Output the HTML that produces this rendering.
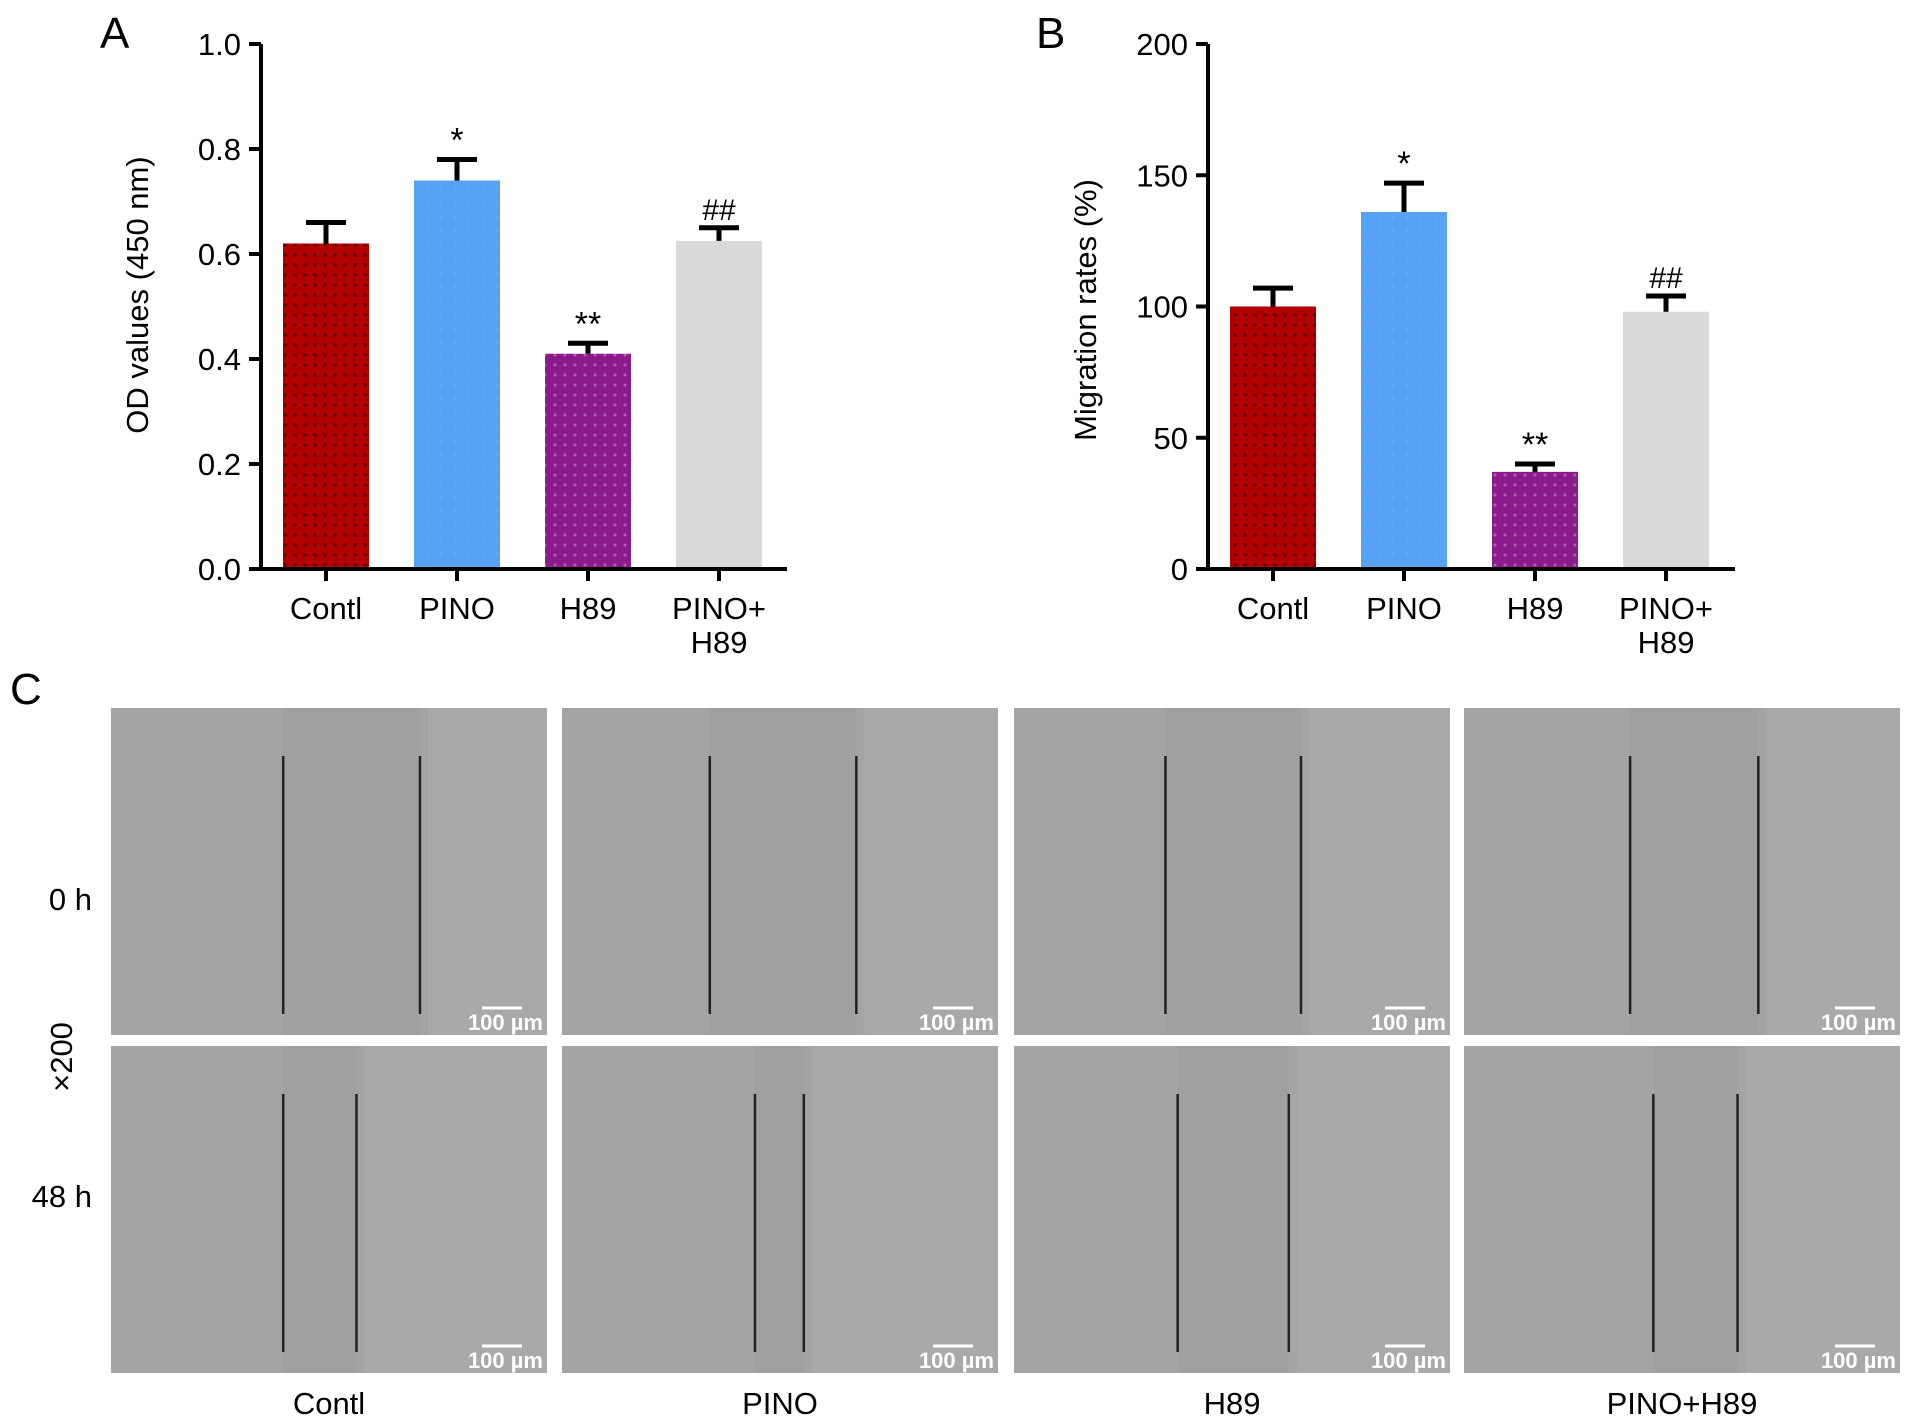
<!DOCTYPE html>
<html><head><meta charset="utf-8">
<style>
html,body{margin:0;padding:0;background:#fff;}
svg{display:block;font-family:"Liberation Sans",Arial,sans-serif;}
</style></head>
<body>
<svg id="fig" width="1913" height="1428" viewBox="0 0 1913 1428" xmlns="http://www.w3.org/2000/svg">
<defs>
<pattern id="dotRed" width="10" height="10" patternUnits="userSpaceOnUse"><rect width="10" height="10" fill="#b00000"/><circle cx="5" cy="5" r="1.8" fill="#6a0000"/></pattern>
<pattern id="dotPur" width="10" height="10" patternUnits="userSpaceOnUse"><rect width="10" height="10" fill="#8b1a8b"/><circle cx="5" cy="5" r="1.5" fill="#b060b0"/></pattern>
<pattern id="dotBlue" width="14" height="14" patternUnits="userSpaceOnUse"><rect width="14" height="14" fill="#58a2f4"/><circle cx="7" cy="7" r="1" fill="#6aaef6"/></pattern>
</defs>
<g id="panelA"></g>
<g id="panelB"></g>
<g id="panelC"></g>
</svg>
<script>
const NS='http://www.w3.org/2000/svg';
const categories=['Contl','PINO','H89','PINO+\nH89'];
const odValues=[0.62,0.74,0.41,0.625];
const odErrors=[0.04,0.04,0.02,0.025];
const odMarks=['','*','**','##'];
const odTicks=[0,0.2,0.4,0.6,0.8,1.0];
const odTickLabels=['0.0','0.2','0.4','0.6','0.8','1.0'];
const migValues=[100,136,37,98];
const migErrors=[7,11,3,6];
const migMarks=['','*','**','##'];
const migTicks=[0,50,100,150,200];
const migTickLabels=['0','50','100','150','200'];
const fills=['url(#dotRed)','url(#dotBlue)','url(#dotPur)','#d9d9d9'];
const imgLabels=['Contl','PINO','H89','PINO+H89'];
const gap0=[[141,253],[121,241],[124,235],[136,241]];
const gap48=[[141,201],[158,198],[134,225],[155,224]];

function el(tag,attrs,parent,text){const e=document.createElementNS(NS,tag);for(const k in attrs)e.setAttribute(k,attrs[k]);if(text!==undefined)e.textContent=text;parent.appendChild(e);return e;}

function drawChart(g,cfg){
  const x0=cfg.axisX,yTop=44,yBot=569,xEnd=cfg.xEnd;
  const ymax=cfg.ticks[cfg.ticks.length-1];
  const yS=v=>yBot-(v/ymax)*(yBot-yTop);
  const step=131,first=cfg.axisX+65,bw=86;
  const xS=i=>first+i*step;
  const pl=el('text',{x:cfg.letterX,y:48,'font-size':44},g,cfg.letter);
  
  cfg.values.forEach((v,i)=>{
    const r=el('rect',{x:xS(i)-bw/2,y:yS(v),width:bw,height:yBot-yS(v),fill:fills[i]},g);
    
    const eT=yS(v+cfg.errors[i]);
    const eb=el('path',{d:`M${xS(i)} ${yS(v)}V${eT}M${xS(i)-20} ${eT}H${xS(i)+20}`,stroke:'#000','stroke-width':5,fill:'none'},g);
    
    if(cfg.marks[i]){const m=el('text',{x:xS(i),y:eT-8,'font-size':cfg.marks[i]==='##'?30:34,'text-anchor':'middle'},g,cfg.marks[i]);
      }
    const lines=categories[i].split('\n');
    lines.forEach((t,j)=>{const tl=el('text',{x:xS(i),y:619+j*34,'font-size':31,'text-anchor':'middle'},g,t);
      });
    const tk=el('line',{x1:xS(i),x2:xS(i),y1:yBot,y2:yBot+12,stroke:'#000','stroke-width':4},g);
    
  });
  const ax=el('path',{d:`M${x0} ${yTop}V${yBot}H${xEnd}`,stroke:'#000','stroke-width':4,fill:'none'},g);
  
  cfg.ticks.forEach((t,i)=>{
    const tk=el('line',{x1:x0-12,x2:x0,y1:yS(t),y2:yS(t),stroke:'#000','stroke-width':4},g);
    
    const tl=el('text',{x:x0-20,y:yS(t)+11,'font-size':31,'text-anchor':'end'},g,cfg.tickLabels[i]);
    
  });
  const yt=el('text',{x:0,y:0,'font-size':31,'text-anchor':'middle',transform:`translate(${cfg.titleX},${cfg.titleY}) rotate(-90)`},g,cfg.title);
  
}
drawChart(document.getElementById('panelA'),{axisX:261,xEnd:787,values:odValues,errors:odErrors,marks:odMarks,ticks:odTicks,tickLabels:odTickLabels,letter:'A',letterX:100,title:'OD values (450 nm)',titleX:148,titleY:295});
drawChart(document.getElementById('panelB'),{axisX:1208,xEnd:1735,values:migValues,errors:migErrors,marks:migMarks,ticks:migTicks,tickLabels:migTickLabels,letter:'B',letterX:1036,title:'Migration rates (%)',titleX:1096,titleY:310});

const gc=document.getElementById('panelC');
const cl=el('text',{x:10,y:704,'font-size':44},gc,'C');

const colX=[111,562,1014,1464],rowY=[708,1046],W=436,H=327;
[gap0,gap48].forEach((gaps,r)=>{
  colX.forEach((cx,c)=>{
    const im=el('rect',{x:cx,y:rowY[r],width:W,height:H,fill:'#a4a4a4'},gc);
    
    
    const sx=W/357;
    const gx1=cx+gaps[c][0]*sx,gx2=cx+gaps[c][1]*sx;
    el('rect',{x:gx1,y:rowY[r],width:gx2-gx1,height:H,fill:'#a0a0a3'},gc);
    el('rect',{x:gx2+8,y:rowY[r],width:cx+W-gx2-8,height:H,fill:'#a9a9a9'},gc);
    [gx1,gx2].forEach(x=>{const ln=el('line',{x1:x,x2:x,y1:rowY[r]+48,y2:rowY[r]+306,stroke:'#222','stroke-width':2.5},gc);
      });
    el('line',{x1:cx+W-65,x2:cx+W-25,y1:rowY[r]+300,y2:rowY[r]+300,stroke:'#fff','stroke-width':3},gc);
    const sb=el('text',{x:cx+W-4,y:rowY[r]+322,'font-size':22,'font-weight':'bold',fill:'#fff','text-anchor':'end'},gc,'100 µm');
    
  });
});
imgLabels.forEach((t,c)=>{const l=el('text',{x:colX[c]+W/2,y:1414,'font-size':31,'text-anchor':'middle'},gc,t);
  });
const r0=el('text',{x:92,y:910,'font-size':31,'text-anchor':'end'},gc,'0 h');

const r1=el('text',{x:92,y:1207,'font-size':31,'text-anchor':'end'},gc,'48 h');

const mg=el('text',{x:0,y:0,'font-size':31,'text-anchor':'middle',transform:'translate(72,1057) rotate(-90)'},gc,'×200');

</script>
</body></html>
